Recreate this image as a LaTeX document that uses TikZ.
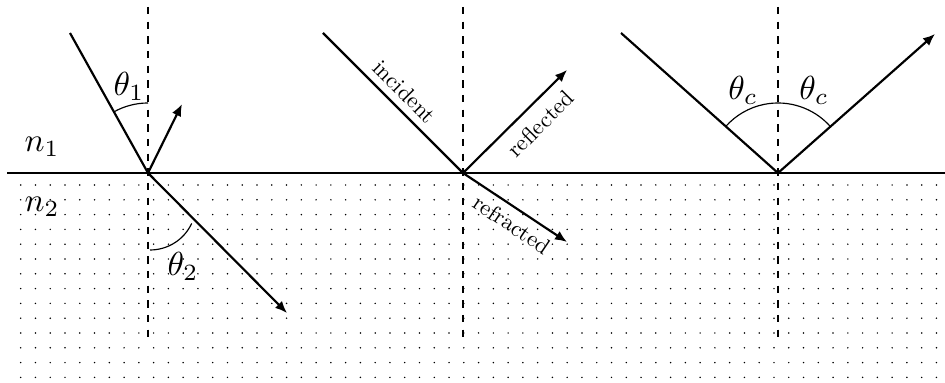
\documentclass[tikz,border=0pt]{standalone}
\usetikzlibrary{arrows.meta,calc}
\begin{document}
\begin{tikzpicture}[x=0.3pt,y=0.3pt,
  ray/.style={line width=0.65pt},
  rayarrow/.style={line width=0.65pt,-{Latex[length=3.6pt,width=3pt]}},
  normal/.style={line width=0.4pt,dash pattern=on 2.2pt off 2.2pt},
  surface/.style={line width=0.4pt},
  anglearc/.style={line width=0.35pt},
  lbl/.style={scale=0.68,inner sep=0pt}]
\useasboundingbox (0,0) rectangle (945,383);
% dots of the lower medium
\foreach \i in {0,...,62}{
  \foreach \j in {0,...,13}{
    \fill ({20.7+14.77*\i},{198-14.8*\j}) circle (0.25pt);
  }
}
% surface
\coordinate (sl) at (7,210);
\coordinate (sr) at (945,210);
\draw[surface] (sl) -- (sr);
% ---------- left ----------
\coordinate (o1) at (148,210);
\coordinate (n1t) at (148,376);
\coordinate (n1b) at (148,44);
\coordinate (i1) at (70,350);
\coordinate (r1) at (182,279);
\coordinate (t1) at (287,70);
\draw[normal] (n1t) -- (n1b);
\draw[ray] (i1) -- (o1);
\draw[rayarrow] (o1) -- (r1);
\draw[rayarrow] (o1) -- (t1);
\draw[anglearc] (148,280) arc[start angle=90,end angle=119.1,radius=70];
\draw[anglearc] (150,133) arc[start angle=270,end angle=335,radius=46];
\node (th1) at (129,297) {$\theta_1$};
\node (th2) at (183,117) {$\theta_2$};
\node (nn1) at (42,236) {$n_1$};
\node (nn2) at (42,176) {$n_2$};
% ---------- middle ----------
\coordinate (o2) at (463,210);
\coordinate (n2t) at (463,376);
\coordinate (n2b) at (463,44);
\coordinate (i2) at (323,350);
\coordinate (r2) at (567,313);
\coordinate (t2) at (567,141);
\draw[normal] (n2t) -- (n2b);
\draw[ray] (i2) -- (o2);
\draw[rayarrow] (o2) -- (r2);
\draw[rayarrow] (o2) -- (t2);
\node[lbl,rotate=-45] (linc) at (404.5,291.5) {incident};
\node[lbl,rotate=45] (lrefl) at (540.5,259.5) {reflected};
\node[lbl,rotate=-34] (lrefr) at (512,158.5) {refracted};
% ---------- right ----------
\coordinate (o3) at (778,210);
\coordinate (n3t) at (778,376);
\coordinate (n3b) at (778,44);
\coordinate (i3) at (621,350);
\coordinate (r3) at (935,349);
\draw[normal] (n3t) -- (n3b);
\draw[ray] (i3) -- (o3);
\draw[rayarrow] (o3) -- (r3);
\draw[anglearc] ($(o3)+(41.5:70)$) arc[start angle=41.5,end angle=138.3,radius=70];
\node (thc1) at (743,293) {$\theta_c$};
\node (thc2) at (814,293) {$\theta_c$};
\end{tikzpicture}
\end{document}
